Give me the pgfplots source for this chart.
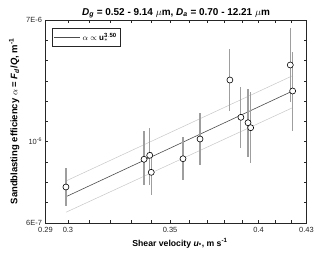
\documentclass[border=0pt]{standalone}
\usepackage{pgfplots}
\pgfplotsset{compat=1.18}
\usepackage{pgfplotstable}
\usepackage{fontspec}
\setmainfont{Liberation Sans}
\definecolor{axgray}{gray}{0.15}
\definecolor{ebgray}{gray}{0.62}
\definecolor{cigray}{gray}{0.78}
\definecolor{fitgray}{gray}{0.3}

\pgfplotstableread{
x y ep em
0.2991 9.25e-7 2.35e-7 1.88e-7
0.3365 1.294e-6 5.29e-7 3.46e-7
0.3394 1.358e-6 5.40e-7 4.10e-7
0.3402 1.105e-6 3.09e-7 2.66e-7
0.3569 1.303e-6 3.99e-7 2.96e-7
0.3662 1.655e-6 6.21e-7 4.47e-7
0.3831 3.383e-6 1.544e-6 1.060e-6
0.3895 2.153e-6 9.66e-7 6.64e-7
0.3937 2.016e-6 1.006e-6 6.81e-7
0.3953 1.898e-6 1.017e-6 6.56e-7
0.4196 4.058e-6 2.274e-6 1.476e-6
0.4211 2.961e-6 1.807e-6 1.131e-6
}\pts

\pgfplotstableread{
x fit up lo
0.2991 8.22e-7 9.95e-7 6.81e-7
0.4211 2.961e-6 3.565e-6 2.419e-6
}\fit

\begin{document}
\begin{tikzpicture}
\useasboundingbox (-45.5bp,-33.3bp) rectangle (274.5bp,222.7bp);
\begin{axis}[
  width=261bp, height=202.7bp, scale only axis,
  xmode=log, ymode=log,
  xmin=0.29, xmax=0.43, ymin=6e-7, ymax=7e-6,
  xtick={0.29,0.30,0.31,0.32,0.33,0.34,0.35,0.36,0.37,0.38,0.39,0.40,0.41,0.42,0.43},
  xticklabels={0.29,0.3,,,,,0.35,,,,,0.4,,,0.43},
  ytick={6e-7,7.671e-7,9.807e-7,1.2538e-6,1.6030e-6,2.0494e-6,2.6201e-6,3.3497e-6,4.2825e-6,5.4751e-6,7e-6},
  yticklabels={6E-7,,,,10\textsuperscript{-6},,,,,,7E-6},
  minor xtick={}, minor ytick={},
  tick align=inside, tick pos=both,
  major tick length=3bp,
  axis line style={axgray, line width=0.4pt},
  tick style={axgray, line width=0.4pt},
  ticklabel style={font=\fontsize{7.5}{9}\selectfont, text=axgray},
  xticklabel style={yshift=-1bp},
  title={\textbf{\textit{D}\textsubscript{\textit{g}} = 0.52 - 9.14 $\mu$m, \textit{D}\textsubscript{\textit{a}} = 0.70 - 12.21 $\mu$m}},
  title style={font=\fontsize{10}{12}\selectfont, at={(axis description cs:0.5,1)}, anchor=base, yshift=-1bp},
  xlabel={\textbf{Shear velocity \textit{u}\textsubscript{*}, m s\textsuperscript{-1}}},
  xlabel style={font=\fontsize{8.7}{10}\selectfont, at={(axis description cs:0.515,0)}, anchor=base, yshift=-23.3bp},
  ylabel={\textbf{Sandblasting efficiency $\alpha$ = \textit{F}\textsubscript{\textit{d}}/\textit{Q}, m\textsuperscript{-1}}},
  ylabel style={font=\fontsize{9.5}{11}\selectfont, at={(axis description cs:-0.1073,0.5)}, anchor=base, rotate=0},
  legend style={at={(axis description cs:0.026,0.959)}, anchor=north west, draw=axgray, line width=0.4pt, font=\fontsize{8}{10}\selectfont, inner xsep=1.5bp, inner ysep=2.5bp},
  legend cell align=left,
  legend image code/.code={\draw[#1] (0bp,0bp) -- (26bp,0bp);},
]
\addplot[cigray, line width=0.5pt, forget plot] table[x=x, y=up]{\fit};
\addplot[cigray, line width=0.5pt, forget plot] table[x=x, y=lo]{\fit};
\addplot[fitgray, line width=0.6pt] table[x=x, y=fit]{\fit};
\addlegendentry{$\alpha \propto$ \textbf{u}$_{*}^{\mathbf{3.50}}$}
\addplot[ebgray, only marks, mark=none, forget plot,
  error bars/.cd, y dir=both, y explicit, error mark=none,
  error bar style={ebgray, line width=1.2pt}]
  table[x=x, y=y, y error plus=ep, y error minus=em]{\pts};
\addplot[only marks, mark=*, mark size=3bp, mark options={draw=black, fill=white, line width=0.6pt}, forget plot] table[x=x, y=y]{\pts};
\end{axis}
\end{tikzpicture}
\end{document}
